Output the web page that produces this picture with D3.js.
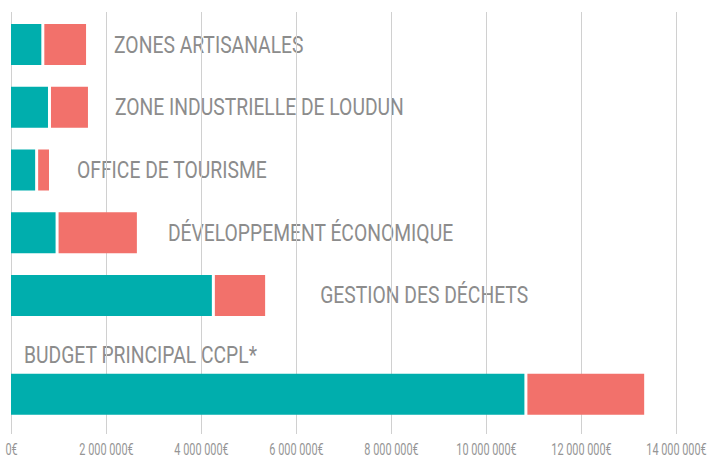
<!DOCTYPE html>
<html>
<head>
<meta charset="utf-8">
<script src="https://cdn.jsdelivr.net/npm/d3@7"></script>
<style>
  body { margin: 0; background: #fff; }
  .label { font-family: Roboto, sans-serif; font-size: 23px; font-weight: 400; fill: #8c8c8c; }
  .tick-label { font-family: Roboto, sans-serif; font-size: 16px; font-weight: 400; fill: #959595; }
</style>
</head>
<body>
<svg width="709" height="459"></svg>
<script>
const categories = [
  'ZONES ARTISANALES',
  'ZONE INDUSTRIELLE DE LOUDUN',
  'OFFICE DE TOURISME',
  'DÉVELOPPEMENT ÉCONOMIQUE',
  'GESTION DES DÉCHETS',
  'BUDGET PRINCIPAL CCPL*'
];
const tealValues   = [670000, 810000, 540000, 970000, 4260000, 10840000];
const salmonValues = [910000, 810000, 260000, 1680000, 1090000, 2490000];
const tickValues = [0, 2000000, 4000000, 6000000, 8000000, 10000000, 12000000, 14000000];

const svg = d3.select('svg');

const teal = '#00aead';
const salmon = '#f2716b';
const squeeze = 0.84;      // condensed look for the labels
const tickSqueeze = 0.68;  // tick labels are narrower still
const gap = 1.5;           // half of the white gap between segments

const data = categories.map((c, i) => ({
  name: c,
  a: tealValues[i],
  b: salmonValues[i],
  total: tealValues[i] + salmonValues[i]
}));

const xScale = d3.scaleLinear()
  .domain([0, 14000000])
  .range([11, 676]);

const yScale = d3.scaleBand()
  .domain(categories)
  .range([24, 378.75])
  .paddingInner(0.3466)
  .paddingOuter(0);

// last bar sits lower, its label goes above it
const lastShift = 36;
const yPos = (d, i) => yScale(d.name) + (i === categories.length - 1 ? lastShift : 0);
const labelGap = [28, 27, 28, 31, 55];

const fmt = v => (v === 0 ? '0' : d3.format(',')(v).replace(/,/g, ' ')) + '€';

// labels (under gridlines)
const labels = svg.append('g');
data.forEach((d, i) => {
  const last = i === categories.length - 1;
  const x = last ? 24 : xScale(d.total) + labelGap[i];
  const y = last ? yPos(d, i) - 11 : yPos(d, i) + yScale.bandwidth() / 2 + 8;
  labels.append('text')
    .attr('class', 'label')
    .attr('transform', `translate(${x}, ${y}) scale(${squeeze}, 1)`)
    .text(d.name);
});

// gridlines + tick labels
const xAxis = d3.axisBottom(xScale)
  .tickValues(tickValues)
  .tickSize(-(434 - 12))
  .tickFormat(fmt);

const axisGroup = svg.append('g')
  .attr('transform', 'translate(0, 434)')
  .call(xAxis)
  .attr('font-family', null)
  .attr('font-size', null);
axisGroup.select('.domain').remove();
axisGroup.selectAll('.tick line')
  .attr('stroke', '#d0d0d0')
  .attr('stroke-width', 1);
axisGroup.selectAll('.tick text')
  .attr('class', 'tick-label')
  .attr('y', 0)
  .attr('dy', 0)
  .attr('fill', null)
  .attr('transform', `translate(0, 21) scale(${tickSqueeze}, 1)`);

// bars
const bars = svg.append('g');
bars.selectAll('rect.teal')
  .data(data)
  .enter()
  .append('rect')
    .attr('class', 'teal')
    .attr('x', xScale(0))
    .attr('y', yPos)
    .attr('width', d => xScale(d.a) - xScale(0) - gap)
    .attr('height', yScale.bandwidth())
    .attr('fill', teal);

bars.selectAll('rect.salmon')
  .data(data)
  .enter()
  .append('rect')
    .attr('class', 'salmon')
    .attr('x', d => xScale(d.a) + gap)
    .attr('y', yPos)
    .attr('width', d => xScale(d.total) - xScale(d.a) - gap)
    .attr('height', yScale.bandwidth())
    .attr('fill', salmon);
</script>
</body>
</html>
